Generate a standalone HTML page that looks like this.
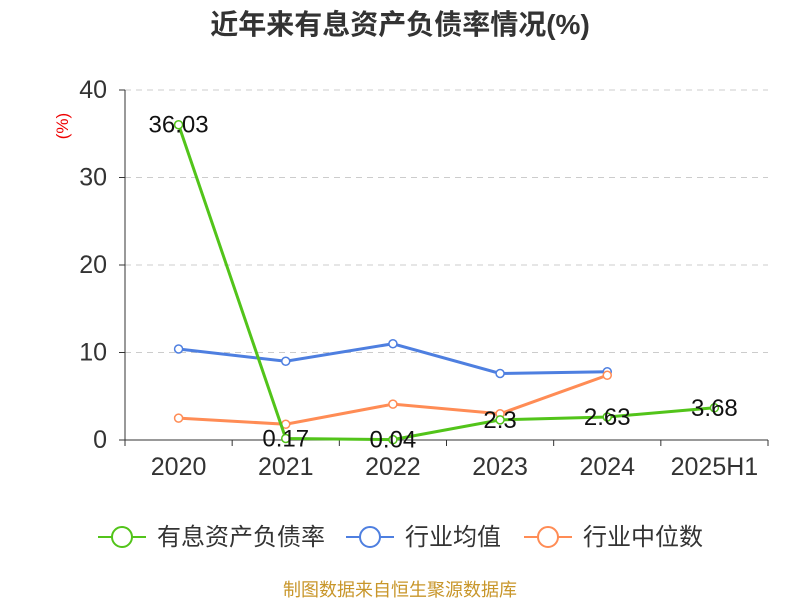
<!DOCTYPE html>
<html><head><meta charset="utf-8"><style>
body{margin:0;background:#fff;}
svg{font-family:"Liberation Sans","Noto Sans CJK SC",sans-serif;}
</style></head><body>
<svg id="chart" width="800" height="600">
<text x="400" y="34" text-anchor="middle" font-size="28" font-weight="bold" fill="#333">近年来有息资产负债率情况(%)</text>
<text x="68" y="126" font-size="17" fill="#e00" transform="rotate(-90 68 126)" text-anchor="middle">(%)</text>
<g id="grid"></g><g id="axes"></g><g id="series"></g>
<g>
<g><line x1="98" y1="537" x2="146" y2="537" stroke="#52c41a" stroke-width="2"/><circle cx="122" cy="537" r="10" fill="#fff" stroke="#52c41a" stroke-width="2"/><text x="157" y="545" font-size="24" fill="#333">有息资产负债率</text></g>
<g><line x1="346" y1="537" x2="394" y2="537" stroke="#4e7fe0" stroke-width="2"/><circle cx="370" cy="537" r="10" fill="#fff" stroke="#4e7fe0" stroke-width="2"/><text x="405" y="545" font-size="24" fill="#333">行业均值</text></g>
<g><line x1="524" y1="537" x2="572" y2="537" stroke="#ff8c55" stroke-width="2"/><circle cx="548" cy="537" r="10" fill="#fff" stroke="#ff8c55" stroke-width="2"/><text x="583" y="545" font-size="24" fill="#333">行业中位数</text></g>
</g>
<text x="400" y="596" text-anchor="middle" font-size="18" fill="#c8962a">制图数据来自恒生聚源数据库</text>
</svg>
<script>
const categories=["2020","2021","2022","2023","2024","2025H1"];
const debtRatio=[36.03,0.17,0.04,2.3,2.63,3.68];
const debtLabels=["36.03","0.17","0.04","2.3","2.63","3.68"];
const industryMean=[10.4,9.0,11.0,7.6,7.8];
const industryMedian=[2.5,1.8,4.1,3.0,7.4];
const yTicks=[0,10,20,30,40];
const NS="http://www.w3.org/2000/svg";
const X0=125,X1=768,Y0=440,Y1=90,YMAX=40;
const bw=(X1-X0)/categories.length;
const xPos=i=>X0+bw*(i+0.5);
const yPos=v=>Y0-(v/YMAX)*(Y0-Y1);
function mk(tag,attrs,parent,txt){const e=document.createElementNS(NS,tag);for(const k in attrs)e.setAttribute(k,attrs[k]);if(txt!==undefined)e.textContent=txt;parent.appendChild(e);return e;}
const grid=document.getElementById('grid'),axes=document.getElementById('axes'),series=document.getElementById('series');
yTicks.forEach(t=>{
  if(t>0){const l=mk('line',{x1:X0,x2:X1,y1:yPos(t),y2:yPos(t),stroke:'#ccc','stroke-dasharray':'6,5'},grid);
  
  }
  const tk=mk('line',{x1:X0-6,x2:X0,y1:yPos(t),y2:yPos(t),stroke:'#333'},axes);
  
  
  const tx=mk('text',{x:X0-18,y:yPos(t)+8,'text-anchor':'end','font-size':25,fill:'#333'},axes,String(t));
  
  
});
const ya=mk('line',{x1:X0,x2:X0,y1:Y1,y2:Y0,stroke:'#333'},axes);


const xa=mk('line',{x1:X0,x2:X1,y1:Y0,y2:Y0,stroke:'#333'},axes);


for(let i=0;i<=categories.length;i++){const t=mk('line',{x1:X0+bw*i,x2:X0+bw*i,y1:Y0,y2:Y0+6,stroke:'#333'},axes);

}
categories.forEach((c,i)=>{const t=mk('text',{x:xPos(i),y:Y0+35,'text-anchor':'middle','font-size':25,fill:'#333'},axes,c);

});
function drawLine(vals,color,name){
  const g=mk('g',{},series);
  
  
  const p=mk('polyline',{points:vals.map((v,i)=>xPos(i)+','+yPos(v)).join(' '),fill:'none',stroke:color,'stroke-width':3},g);
  
  
  vals.forEach((v,i)=>{const c=mk('circle',{cx:xPos(i),cy:yPos(v),r:4,fill:'#fff',stroke:color,'stroke-width':1.5},g);
  
  });
  return g;
}
drawLine(industryMean,'#4e7fe0','industry-mean-series');
drawLine(industryMedian,'#ff8c55','industry-median-series');
const dg=drawLine(debtRatio,'#52c41a','debt-ratio-series');
debtRatio.forEach((v,i)=>{const t=mk('text',{x:xPos(i),y:yPos(v)+8,'text-anchor':'middle','font-size':24,fill:'#111'},dg,debtLabels[i]);

});
</script>
</body></html>
